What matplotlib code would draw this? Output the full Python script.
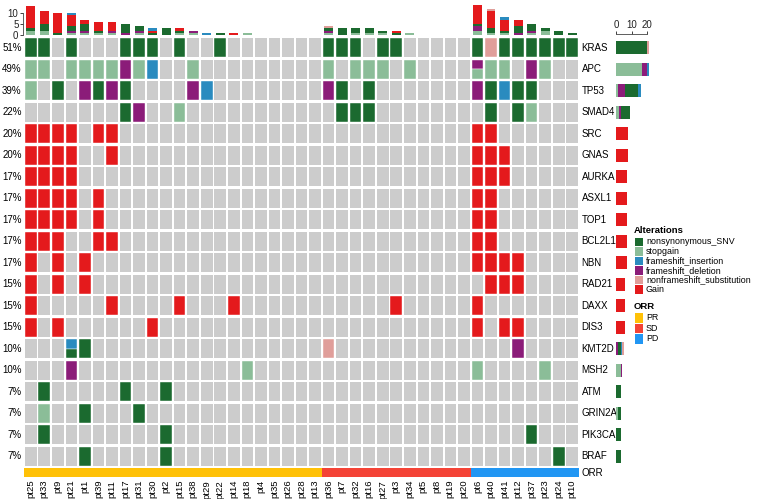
import matplotlib
matplotlib.use("Agg")
import matplotlib.pyplot as plt
from matplotlib.patches import Rectangle

plt.rcParams["font.family"] = ["Liberation Sans", "DejaVu Sans"]

# --- Data ---
PATIENTS = ("pt25 pt33 pt9 pt21 pt1 pt39 pt11 pt17 pt31 pt30 pt2 pt15 pt38 pt29 pt22 pt14 "
            "pt18 pt4 pt35 pt26 pt28 pt13 pt36 pt7 pt32 pt16 pt27 pt3 pt34 pt5 pt8 pt19 "
            "pt20 pt6 pt40 pt41 pt12 pt37 pt23 pt24 pt10").split()
ORR = (["PR"] * 22) + (["SD"] * 11) + (["PD"] * 8)

GENES = ["KRAS", "APC", "TP53", "SMAD4", "SRC", "GNAS", "AURKA", "ASXL1", "TOP1", "BCL2L1",
         "NBN", "RAD21", "DAXX", "DIS3", "KMT2D", "MSH2", "ATM", "GRIN2A", "PIK3CA", "BRAF"]

# one code per patient: M nonsynonymous_SNV, S stopgain, I frameshift_insertion,
# D frameshift_deletion, N nonframeshift_substitution, G Gain, "." none, "a/b" = two hits
#             PR (22)                                      SD (11)                 PD (8)
KRAS   = ("M M . M . . . M M M . M . . M . . . . . . . " "M M M . M M . . . . . " "M N M M M M M M").split()
APC    = ("S S . S S S S D S I . . S . . . . . . . . . " "S . S S S . S . . . . " "D/S S S . D S . .").split()
TP53   = ("S . M . D M D M . . . . D I . . . . . . . . " "D M . M . . . . . . . " "D M I M M . . .").split()
SMAD4  = (". . . . . . . M D . . S . . . . . . . . . . " ". M M M . . . . . . . " ". M . M S . . .").split()
SRC    = ("G G G G . G G . . . . . . . . . . . . . . . " ". . . . . . . . . . . " "G G . . . . . .").split()
GNAS   = ("G G G G . . G . . . . . . . . . . . . . . . " ". . . . . . . . . . . " "G G G . . . . .").split()
AURKA  = ("G G G G . . . . . . . . . . . . . . . . . . " ". . . . . . . . . . . " "G G G . . . . .").split()
ASXL1  = ("G G G G . G . . . . . . . . . . . . . . . . " ". . . . . . . . . . . " "G G . . . . . .").split()
TOP1   = ("G G G G . G . . . . . . . . . . . . . . . . " ". . . . . . . . . . . " "G G . . . . . .").split()
BCL2L1 = ("G G G . . G G . . . . . . . . . . . . . . . " ". . . . . . . . . . . " "G G . . . . . .").split()
NBN    = ("G . G . G . . . . . . . . . . . . . . . . . " ". . . . . . . . . . . " "G G G G . . . .").split()
RAD21  = ("G . G . G . . . . . . . . . . . . . . . . . " ". . . . . . . . . . . " ". G G G . . . .").split()
DAXX   = ("G . . . . . G . . . . G . . . G . . . . . . " ". . . . . G . . . . . " "G . . . . . . .").split()
DIS3   = ("G . G . . . . . . G . . . . . . . . . . . . " ". . . . . . . . . . . " "G . G G . . . .").split()
KMT2D  = (". . . I/M M . . . . . . . . . . . . . . . . . " "N . . . . . . . . . . " ". . . D . . . .").split()
MSH2   = (". . . D . . . . . . . . . . . . S . . . . . " ". . . . . . . . . . . " "S . . . . S . .").split()
ATM    = (". M . . . . . M . . M . . . . . . . . . . . " ". . . . . . . . . . . " ". . . . . . . .").split()
GRIN2A = (". S . . M . . . M . . . . . . . . . . . . . " ". . . . . . . . . . . " ". . . . . . . .").split()
PIK3CA = (". M . . . . . . . . M . . . . . . . . . . . " ". . . . . . . . . . . " ". . . . M . . .").split()
BRAF   = (". . . . M . . . . . M . . . . . . . . . . . " ". . . . . . . . . . . " ". . . . . . M .").split()

ROWS = [KRAS, APC, TP53, SMAD4, SRC, GNAS, AURKA, ASXL1, TOP1, BCL2L1,
        NBN, RAD21, DAXX, DIS3, KMT2D, MSH2, ATM, GRIN2A, PIK3CA, BRAF]

ALT_CODES = ["M", "S", "I", "D", "N", "G"]
ALT_NAMES = ["nonsynonymous_SNV", "stopgain", "frameshift_insertion",
             "frameshift_deletion", "nonframeshift_substitution", "Gain"]
ALT_COLORS = ["#1b6a2f", "#8bbd98", "#2a8bbf", "#8b1c79", "#e09e9a", "#e41a1c"]
STACK_ORDER = ["S", "D", "M", "G", "I", "N"]

ORR_LEVELS = ["PR", "SD", "PD"]
ORR_COLORS = ["#ffc107", "#f44336", "#2196f3"]

GRAY = "#cccccc"
COLOR = dict(zip(ALT_CODES, ALT_COLORS))
ORR_COLOR = dict(zip(ORR_LEVELS, ORR_COLORS))

W, H = 758, 499
n_pat, n_gene = len(PATIENTS), len(GENES)


def px_axes(fig, x0, y0, x1, y1):
    return fig.add_axes([x0 / W, 1 - y1 / H, (x1 - x0) / W, (y1 - y0) / H])


fig = plt.figure(figsize=(W / 100, H / 100), dpi=100)

# --- main grid ---
ax = px_axes(fig, 24, 37, 579, 467)
ax.set_xlim(-0.5, n_pat - 0.5)
ax.set_ylim(n_gene - 0.5, -0.5)
ax.axis("off")
cw, ch = 0.86, 0.88
for r, row in enumerate(ROWS):
    for c, code in enumerate(row):
        ax.add_patch(Rectangle((c - cw / 2, r - ch / 2), cw, ch, color=GRAY, lw=0))
        if code == ".":
            continue
        parts = code.split("/")
        h = ch / len(parts)
        for k, p in enumerate(parts):
            ax.add_patch(Rectangle((c - cw / 2, r - ch / 2 + k * h), cw, h,
                                   facecolor=COLOR[p], edgecolor="white", lw=0.3))
    n_hit = sum(code != "." for code in row)
    ax.text(-0.68, r, f"{round(100 * n_hit / n_pat)}%", ha="right", va="center", fontsize=7)
    ax.text(n_pat - 0.3, r, GENES[r], ha="left", va="center", fontsize=7)

# --- ORR annotation ---
ax_orr = px_axes(fig, 24, 468, 579, 477)
ax_orr.set_xlim(-0.5, n_pat - 0.5)
ax_orr.set_ylim(0, 1)
ax_orr.bar(range(n_pat), [1] * n_pat, width=1.0, color=[ORR_COLOR[o] for o in ORR], lw=0)
ax_orr.set_xticks(range(n_pat))
ax_orr.set_xticklabels(PATIENTS, rotation=90, fontsize=6.8)
ax_orr.tick_params(axis="x", length=0, pad=2)
ax_orr.set_yticks([])
for s in ax_orr.spines.values():
    s.set_visible(False)
ax_orr.text(1.004, 0.5, "ORR", transform=ax_orr.transAxes, ha="left", va="center", fontsize=7)

# --- top barplot (alterations per patient) ---
ax_top = px_axes(fig, 24, 5, 579, 35)
ax_top.set_xlim(-0.5, n_pat - 0.5)
ax_top.set_ylim(0, 13.6)
bottom = [0] * n_pat
for code in STACK_ORDER:
    vals = [sum(cell.split("/").count(code) for cell in (row[c] for row in ROWS))
            for c in range(n_pat)]
    ax_top.bar(range(n_pat), vals, bottom=bottom, width=0.66, color=COLOR[code], lw=0)
    bottom = [b + v for b, v in zip(bottom, vals)]
for s in ["top", "right", "bottom"]:
    ax_top.spines[s].set_visible(False)
ax_top.spines["left"].set_bounds(0, 10)
ax_top.spines["left"].set_linewidth(0.6)
ax_top.spines["left"].set_color("#444444")
ax_top.spines["left"].set_position(("outward", 1))
ax_top.set_yticks([0, 5, 10])
ax_top.tick_params(axis="y", labelsize=7, length=2, width=0.6, pad=1, colors="#222222")
ax_top.set_xticks([])

# --- right barplot (alterations per gene) ---
ax_r = px_axes(fig, 616, 37, 652, 467)
ax_r.set_ylim(n_gene - 0.5, -0.5)
ax_r.set_xlim(0, 36 / 1.55)
left = [0] * n_gene
for code in STACK_ORDER:
    vals = [sum(cell.split("/").count(code) for cell in row) for row in ROWS]
    ax_r.barh(range(n_gene), vals, left=left, height=0.62, color=COLOR[code], lw=0)
    left = [a + v for a, v in zip(left, vals)]
for s in ["bottom", "right", "left"]:
    ax_r.spines[s].set_visible(False)
ax_r.spines["top"].set_bounds(0, 20)
ax_r.spines["top"].set_linewidth(0.6)
ax_r.spines["top"].set_color("#444444")
ax_r.spines["top"].set_position(("outward", 2))
ax_r.xaxis.tick_top()
ax_r.set_xticks([0, 10, 20])
ax_r.tick_params(axis="x", labelsize=7, length=2, width=0.6, pad=1, colors="#222222")
ax_r.set_yticks([])

# --- legends ---
ax_leg = px_axes(fig, 630, 220, 758, 350)
ax_leg.set_xlim(630, 758)
ax_leg.set_ylim(350, 220)
ax_leg.axis("off")
ax_leg.text(634, 231, "Alterations", fontsize=6.8, fontweight="bold", va="center")
for i, (code, name) in enumerate(zip(ALT_CODES, ALT_NAMES)):
    y = 242 + i * 9.5
    ax_leg.add_patch(Rectangle((635, y - 4.2), 8, 8.4, color=COLOR[code], lw=0))
    ax_leg.text(646, y, name, fontsize=6.4, va="center")
ax_leg.text(634, 307, "ORR", fontsize=6.8, fontweight="bold", va="center")
for i, lvl in enumerate(ORR_LEVELS):
    y = 318 + i * 10.5
    ax_leg.add_patch(Rectangle((635, y - 4.6), 8, 9.2, color=ORR_COLOR[lvl], lw=0))
    ax_leg.text(646, y, lvl, fontsize=6.4, va="center")

fig.savefig("out.png", dpi=100)
